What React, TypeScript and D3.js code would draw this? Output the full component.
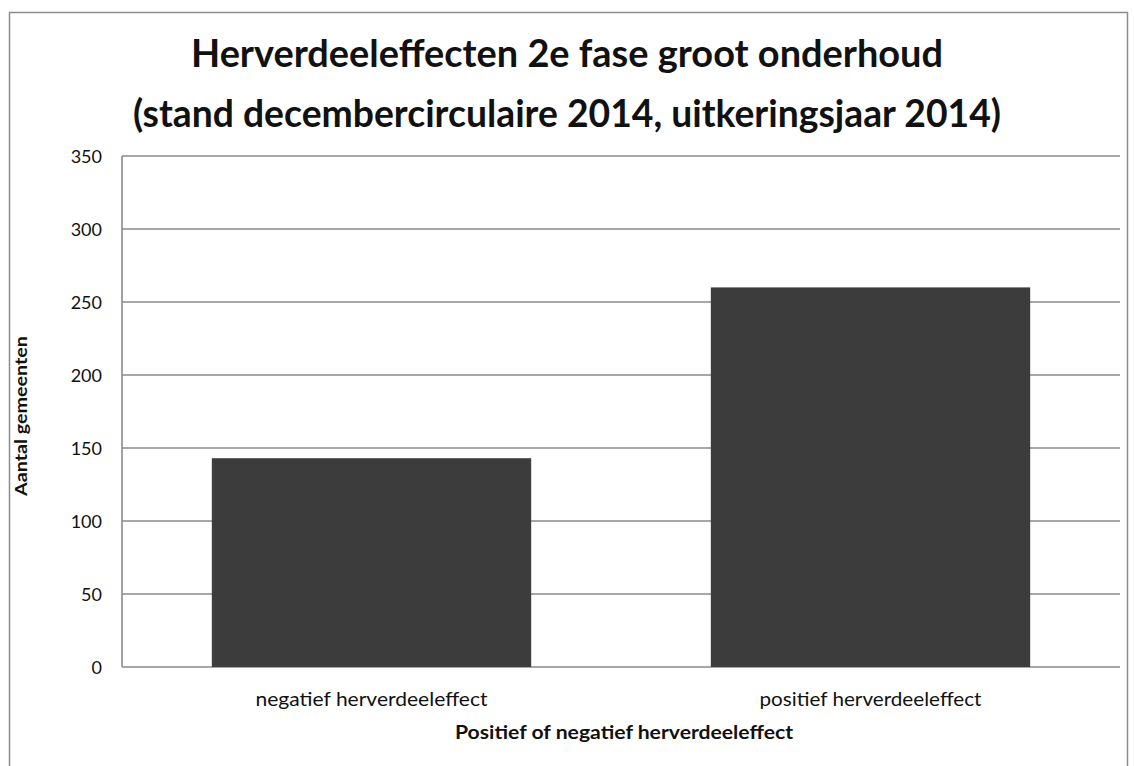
import React, { useEffect, useRef } from 'react';
import * as d3 from 'd3';

const categories = ['negatief herverdeeleffect', 'positief herverdeeleffect'];
const values = [143, 260];
const yTicks = [0, 50, 100, 150, 200, 250, 300, 350];
const titleLines = [
  'Herverdeeleffecten 2e fase groot onderhoud',
  '(stand decembercirculaire 2014, uitkeringsjaar 2014)',
];

const W = 1134;
const H = 766;
const font = 'Lato, "Open Sans", sans-serif';

export default function App() {
  const ref = useRef<SVGSVGElement>(null);

  useEffect(() => {
    const margin = { top: 156, right: 14, bottom: 99, left: 122 };
    const svg = d3.select(ref.current);
    svg.selectAll('*').remove();

    // outer frame
    svg
      .append('rect')
      .attr('x', 9.5)
      .attr('y', 12.5)
      .attr('width', 1118)
      .attr('height', 770)
      .attr('fill', 'white')
      .attr('stroke', '#8c8c8c')
      .attr('stroke-width', 1.5);

    const x = d3
      .scaleBand()
      .domain(categories)
      .range([margin.left, W - margin.right])
      .paddingInner(0.36)
      .paddingOuter(0.18);

    const y = d3
      .scaleLinear()
      .domain([0, 350])
      .range([H - margin.bottom, margin.top]);

    // gridlines
    svg
      .append('g')
      .selectAll('line')
      .data(yTicks)
      .join('line')
      .attr('x1', margin.left)
      .attr('x2', W - margin.right)
      .attr('y1', (d) => y(d))
      .attr('y2', (d) => y(d))
      .attr('stroke', '#8a8a8a')
      .attr('stroke-width', 1.6);

    // y axis line
    svg
      .append('line')
      .attr('x1', margin.left)
      .attr('x2', margin.left)
      .attr('y1', y(350))
      .attr('y2', y(0))
      .attr('stroke', '#8a8a8a')
      .attr('stroke-width', 1.6);

    // bars
    svg
      .append('g')
      .attr('fill', '#3c3c3c')
      .selectAll('rect')
      .data(values)
      .join('rect')
      .attr('x', (d, i) => x(categories[i])!)
      .attr('y', (d) => y(d))
      .attr('width', x.bandwidth())
      .attr('height', (d) => y(0) - y(d));

    // y tick labels
    svg
      .append('g')
      .selectAll('text')
      .data(yTicks)
      .join('text')
      .attr('x', 102)
      .attr('y', (d) => y(d) + 7)
      .attr('text-anchor', 'end')
      .style('font-family', font)
      .style('font-size', '18px')
      .style('fill', '#111')
      .text((d) => d);

    // x tick labels
    svg
      .append('g')
      .selectAll('text')
      .data(categories)
      .join('text')
      .attr('x', (d) => x(d)! + x.bandwidth() / 2)
      .attr('y', 706)
      .attr('text-anchor', 'middle')
      .attr('textLength', (d, i) => (i === 0 ? 232 : 222))
      .attr('lengthAdjust', 'spacingAndGlyphs')
      .style('font-family', font)
      .style('font-size', '19px')
      .style('fill', '#111')
      .text((d) => d);

    // axis titles
    svg
      .append('text')
      .attr('x', (margin.left + W - margin.right) / 2 + 3)
      .attr('y', 739)
      .attr('text-anchor', 'middle')
      .attr('textLength', 338)
      .attr('lengthAdjust', 'spacingAndGlyphs')
      .style('font-family', font)
      .style('font-size', '19px')
      .style('font-weight', 'bold')
      .style('fill', '#111')
      .text('Positief of negatief herverdeeleffect');

    svg
      .append('text')
      .attr('transform', 'translate(27,416) rotate(-90)')
      .attr('text-anchor', 'middle')
      .attr('textLength', 160)
      .attr('lengthAdjust', 'spacingAndGlyphs')
      .style('font-family', font)
      .style('font-size', '17px')
      .style('font-weight', 'bold')
      .style('fill', '#111')
      .text('Aantal gemeenten');

    // title
    svg
      .append('g')
      .selectAll('text')
      .data(titleLines)
      .join('text')
      .attr('x', W / 2)
      .attr('y', (d, i) => 67 + i * 60)
      .attr('text-anchor', 'middle')
      .attr('textLength', (d, i) => (i === 0 ? 752 : 868))
      .attr('lengthAdjust', 'spacingAndGlyphs')
      .style('font-family', font)
      .style('font-size', '38px')
      .style('font-weight', 'bold')
      .style('fill', '#111')
      .text((d) => d);
  }, []);

  return (
    <svg
      ref={ref}
      width={W}
      height={H}
      style={{ position: 'absolute', left: 0, top: 0, background: 'white' }}
    />
  );
}
